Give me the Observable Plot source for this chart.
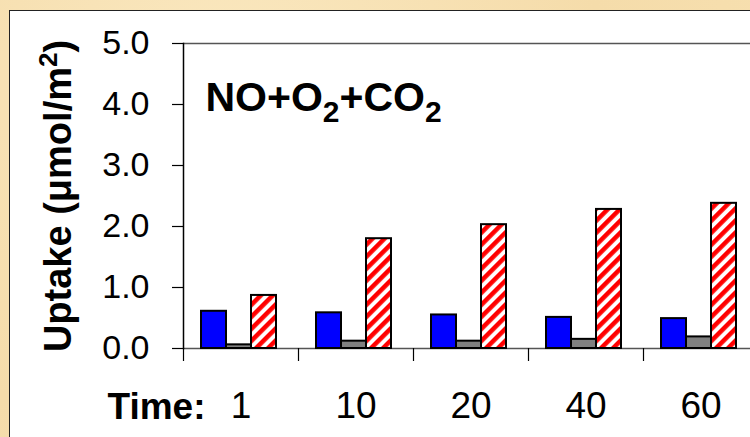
<!DOCTYPE html>
<html><head><meta charset="utf-8">
<script src="https://cdn.jsdelivr.net/npm/d3@7"></script>
<script src="https://cdn.jsdelivr.net/npm/@observablehq/plot@0.6"></script>
<style>
html,body{margin:0;padding:0;width:750px;height:437px;overflow:hidden;background:#F7E0B0;}
body{background:radial-gradient(circle at 30% 20%,#FAE8C0 0%,#F5DCAA 60%,#F7E0B0 100%);}
#panel{position:absolute;left:9px;top:10px;width:800px;height:500px;background:#fff;border:1.5px solid #222;}
#chart{position:absolute;left:0;top:0;width:770px;}
svg{font-family:"Liberation Sans",Arial,Helvetica,sans-serif;}
</style></head><body>
<div id="panel"></div><div id="chart"></div>
<script>
const times = ["1", "10", "20", "40", "60"];
const series = ["series1", "series2", "series3"];
const series1Values = [0.61, 0.585, 0.55, 0.51, 0.49];
const series2Values = [0.06, 0.12, 0.12, 0.15, 0.19];
const series3Values = [0.87, 1.80, 2.03, 2.28, 2.38];
const seriesFills = ["#0000ff", "#808080", "url(#hatch)"];
const yTicks = [0, 1, 2, 3, 4, 5];
const titleText = "NO+O2+CO2";
const yLabelText = "Uptake (μmol/m2)";
const xLabelText = "Time:";

const allValues = [series1Values, series2Values, series3Values];
const data = [];
times.forEach((t, i) => series.forEach((s, j) => data.push({time: t, series: s, value: allValues[j][i]})));

const W = 770, H = 437, ML = 183, MR = 12, MT = 43, MB = 89;
const bandHalf = (W - ML - MR) / times.length / 2;

const chart = Plot.plot({
  width: W, height: H,
  marginLeft: ML, marginRight: MR, marginTop: MT, marginBottom: MB,
  style: {background: "transparent", color: "#000", fontFamily: "'Liberation Sans',Arial,sans-serif", overflow: "visible", maxWidth: "none"},
  fx: {domain: times, padding: 0, axis: null},
  x: {domain: series, paddingInner: 0, paddingOuter: 0.755, align: 0.455, axis: null},
  y: {domain: [0, 5], axis: null},
  color: {type: "ordinal", domain: series, range: seriesFills},
  marks: [
    Plot.ruleY([0, 5], {stroke: "#555", strokeWidth: 1.5}),
    Plot.barY(data, {fx: "time", x: "series", y: "value", fill: "series", stroke: "#000", strokeWidth: 2, inset: 0}),
    Plot.frame({anchor: "left", fx: times[0], stroke: "#000", strokeWidth: 1.5}),
    Plot.axisY({ticks: yTicks, tickFormat: d3.format(".1f"), tickSize: 11, tickPadding: 23, fontSize: 34, label: null, strokeWidth: 1.2}),
    Plot.axisFx({anchor: "bottom", tickSize: 13, tickFormat: () => "", label: null, dx: -bandHalf, strokeWidth: 1.2}),
    Plot.axisFx({anchor: "bottom", tickSize: 0, tickPadding: 43, fontSize: 37, label: null}),
    Plot.text([titleText], {fx: [times[0]], frameAnchor: "top-left", textAnchor: "start", dx: 22, dy: 38, fontSize: 41, fontWeight: "bold", className: "ttl"}),
    Plot.text([xLabelText], {fx: [times[0]], frameAnchor: "bottom-left", textAnchor: "end", dx: 22, dy: 70, fontSize: 37, fontWeight: "bold"}),
    Plot.text([yLabelText], {fx: [times[0]], frameAnchor: "left", rotate: -90, textAnchor: "middle", dx: -125, dy: 0, fontSize: 38, fontWeight: "bold", className: "ylab"})
  ]
});

// hatch pattern definition inside the chart's svg
const ns = "http://www.w3.org/2000/svg";
const defs = document.createElementNS(ns, "defs");
defs.innerHTML = '<pattern id="hatch" patternUnits="userSpaceOnUse" width="8.5" height="8.5" patternTransform="rotate(45)">' +
  '<rect x="0" y="0" width="8.5" height="8.5" fill="#ffffff"></rect><rect x="0" y="0" width="4.5" height="8.5" fill="#ff0000"></rect></pattern>';
chart.insertBefore(defs, chart.firstChild);
document.getElementById("chart").appendChild(chart);

// subscripts / superscript
const t = chart.querySelector(".ttl text");
if (t) {
  t.innerHTML = 'NO+O<tspan dy="11" font-size="30">2</tspan><tspan dy="-11">+CO</tspan><tspan dy="11" font-size="30">2</tspan>';
}
const yl = chart.querySelector(".ylab text");
if (yl) {
  yl.innerHTML = 'Uptake (μmol/m<tspan dy="-14" font-size="26">2</tspan><tspan dy="14">)</tspan>';
}
</script>
</body></html>
